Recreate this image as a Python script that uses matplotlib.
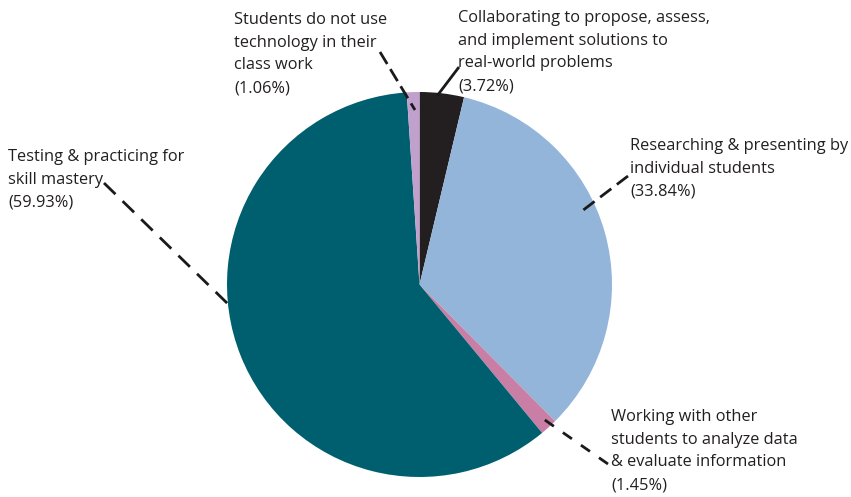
import matplotlib
matplotlib.use("Agg")
import matplotlib.pyplot as plt

# Share of classroom technology use, clockwise from 12 o'clock
categories = [
    "Collaborating to propose, assess,\nand implement solutions to\nreal-world problems",
    "Researching & presenting by\nindividual students",
    "Working with other\nstudents to analyze data\n& evaluate information",
    "Testing & practicing for\nskill mastery",
    "Students do not use\ntechnology in their\nclass work",
]
shares = [3.72, 33.84, 1.45, 59.93, 1.06]
colors = ["#231F20", "#93B5D9", "#C97FA5", "#005F6F", "#C0A0CC"]

W, H = 851, 497
plt.rcParams["font.family"] = ["Open Sans", "DejaVu Sans"]
plt.rcParams["lines.scale_dashes"] = False

fig = plt.figure(figsize=(W / 100, H / 100), dpi=100)
ax = fig.add_axes([0, 0, 1, 1])


def Y(y):
    # layout positions are given top-down
    return H - y


cx, cy, r = 419.5, 284.5, 192.5
ax.pie(shares, colors=colors, startangle=90, counterclock=False,
       center=(cx, Y(cy)), radius=r, frame=True,
       wedgeprops=dict(linewidth=0))
ax.set_xlim(0, W)
ax.set_ylim(0, H)
ax.set_aspect("equal")
ax.axis("off")

text_color = "#231F20"
fs = 11.8
ls = 1.56

# label anchors (top-left) and leader lines for each slice
label_pos = [(458, 10), (630, 138), (611, 409), (8, 149), (234, 12)]
leaders = [
    ((459, 67), (437, 96), None),
    ((628, 176), (582, 211), (14, 7)),
    ((608, 464), (542, 418), (11, 11)),
    ((104, 183), (228, 304), (16, 10)),
    ((380, 52), (415, 110), (14, 6)),
]

for cat, val, (lx, ly), (p0, p1, dash) in zip(categories, shares, label_pos, leaders):
    ax.text(lx, Y(ly), f"{cat}\n({val:.2f}%)", ha="left", va="top",
            fontsize=fs, color=text_color, linespacing=ls)
    kw = dict(color="#1a1a1a", linewidth=2.0, solid_capstyle="butt")
    if dash is not None:
        kw["dashes"] = (dash[0] * 0.72, dash[1] * 0.72)
        kw["dash_capstyle"] = "butt"
    ax.plot([p0[0], p1[0]], [Y(p0[1]), Y(p1[1])], **kw)

fig.savefig("out.png", dpi=100)
